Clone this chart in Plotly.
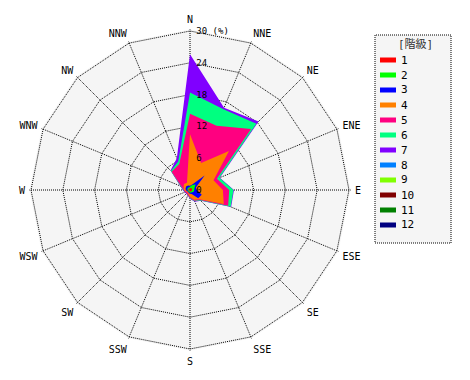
import numpy as np
import plotly.graph_objects as go

W, H = 470, 380

directions = ['N', 'NNE', 'NE', 'ENE', 'E', 'ESE', 'SE', 'SSE',
              'S', 'SSW', 'SW', 'WSW', 'W', 'WNW', 'NW', 'NNW']

class_names = ['1', '2', '3', '4', '5', '6', '7', '8', '9', '10', '11', '12']
class_colors = ['#ff0000', '#00ff00', '#0000ff', '#ff8000', '#ff0080', '#00ff80',
                '#8000ff', '#0080ff', '#80ff00', '#800000', '#008000', '#000080']

# frequency (%) of each class per direction
c1 = [0.3, 0.4, 0.5, 0.4, 0.4, 0.4, 0.3, 0.3, 0.3, 0.2, 0.2, 0.2, 0.3, 0.3, 0.3, 0.3]
c2 = [0.3, 0.6, 1.0, 0.5, 0.4, 0.4, 0.3, 0.2, 0.2, 0.2, 0.2, 0.2, 0.2, 0.2, 0.3, 0.2]
c3 = [0.2, 0.1, 2.4, 0.3, 0.5, 1.6, 1.6, 0.3, 0.2, 0.2, 0.1, 0.2, 0.3, 0.4, 0.4, 0.4]
c4 = [9.7, 4.4, 6.5, 3.6, 4.9, 4.5, 0.3, 1.2, 0.6, 0.2, 0.2, 0.2, 0.3, 0.4, 0.6, 0.6]
c5 = [3.9, 7.6, 5.9, 0.7, 1.2, 0.9, 0.2, 0.2, 0.2, 0.2, 0.2, 0.2, 0.1, 0.5, 3.3, 3.8]
c6 = [4.0, 3.4, 1.4, 0.5, 0.8, 0.5, 0.1, 0.1, 0.1, 0.0, 0.0, 0.0, 0.1, 0.1, 0.2, 0.5]
c7 = [7.2, 0.3, 0.6, 0.1, 0.1, 0.1, 0.1, 0.1, 0.1, 0.1, 0.1, 0.1, 0.1, 0.1, 0.1, 0.7]
c8 = [0.0] * 16
c9 = [0.0] * 16
c10 = [0.0] * 16
c11 = [0.0] * 16
c12 = [0.0] * 16

class_values = [c1, c2, c3, c4, c5, c6, c7, c8, c9, c10, c11, c12]

radial_ticks = [0, 6, 12, 18, 24, 30]
radial_ticktext = ['0', '6', '12', '18', '24', '30 (%)']

cum = np.cumsum(np.array(class_values), axis=0)

FONT = 'DejaVu Sans Mono, Noto Sans CJK JP, monospace'
DOT = '1px,1px'

fig = go.Figure()
# draw the largest cumulative polygons first
for i in reversed(range(len(class_names))):
    vals = class_values[i]
    r = list(cum[i]) if sum(vals) > 0 else []
    th = directions if r else []
    fig.add_trace(go.Scatterpolar(
        r=r, theta=th, name=class_names[i], mode='none',
        fill='toself', fillcolor=class_colors[i],
        showlegend=False, hoverinfo='skip'))

RMAX = 30.3
cx, cy = 190, 190
R = 159 * RMAX / 30
fig.update_layout(
    width=W, height=H,
    margin=dict(l=0, r=0, t=0, b=0),
    paper_bgcolor='white',
    font=dict(family=FONT, size=10, color='black'),
    polar=dict(
        domain=dict(x=[(cx - R) / W, (cx + R) / W],
                    y=[1 - (cy + R) / H, 1 - (cy - R) / H]),
        bgcolor='#f5f5f5',
        gridshape='linear',
        radialaxis=dict(range=[0, RMAX], tickvals=radial_ticks, ticktext=radial_ticktext,
                        angle=90, tickangle=90, showline=False,
                        ticks='outside', ticklen=4, tickcolor='rgba(0,0,0,0)',
                        gridcolor='black', griddash=DOT, gridwidth=1,
                        tickfont=dict(size=9, family=FONT)),
        angularaxis=dict(type='category', categoryarray=directions,
                         direction='clockwise', rotation=90,
                         showline=False, ticks='outside', ticklen=2,
                         tickcolor='rgba(0,0,0,0)',
                         gridcolor='black', griddash=DOT, gridwidth=1,
                         tickfont=dict(size=10, family=FONT)),
    ),
)

# legend box (built from the class lists)
def px(x):
    return x / W

def py(y):
    return 1 - y / H

shapes = [dict(type='rect', xref='paper', yref='paper',
               x0=px(375), x1=px(451), y0=py(243), y1=py(35),
               line=dict(color='black', width=1, dash=DOT),
               fillcolor='#f5f5f5', layer='below')]
annotations = [dict(text='[階級]', x=px(415), y=py(44), xref='paper', yref='paper',
                    showarrow=False, xanchor='center', yanchor='middle',
                    font=dict(size=11, family=FONT, color='#333333'))]
for k, (name, col) in enumerate(zip(class_names, class_colors)):
    yc = 60 + 15 * k
    shapes.append(dict(type='rect', xref='paper', yref='paper',
                       x0=px(380), x1=px(396), y0=py(yc + 2.5), y1=py(yc - 2.5),
                       line=dict(width=0), fillcolor=col))
    annotations.append(dict(text=name, x=px(399), y=py(yc), xref='paper', yref='paper',
                            showarrow=False, xanchor='left', yanchor='middle',
                            font=dict(size=11, family=FONT, color='black')))
fig.update_layout(shapes=shapes, annotations=annotations)

fig.write_html('out.html', config={'displayModeBar': False},
               post_script="document.body.style.margin='0';")
